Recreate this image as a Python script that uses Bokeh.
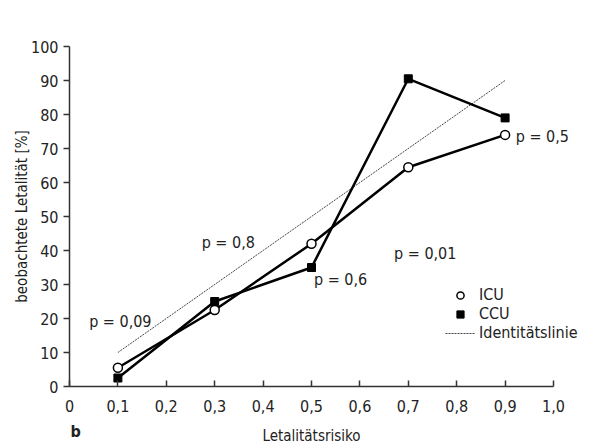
from bokeh.plotting import figure
from bokeh.models import Legend, LegendItem, FixedTicker
from bokeh.core.properties import value
from bokeh.embed import file_html
from bokeh.resources import INLINE

# data
risk = [0.1, 0.3, 0.5, 0.7, 0.9]
icu = [5.5, 22.5, 42, 64.5, 74]
ccu = [2.5, 25, 35, 90.5, 79]
ident_x = [0.1, 0.9]
ident_y = [10, 90]
p_labels = ["p = 0,09", "p = 0,8", "p = 0,6", "p = 0,01", "p = 0,5"]
p_x = [0.105, 0.328, 0.56, 0.735, 0.977]
p_y = [19, 42.5, 31.5, 39, 73.5]
x_ticks = [0, 0.1, 0.2, 0.3, 0.4, 0.5, 0.6, 0.7, 0.8, 0.9, 1.0]
x_tick_labels = ["0", "0,1", "0,2", "0,3", "0,4", "0,5", "0,6", "0,7", "0,8", "0,9", "1,0"]
y_ticks = [0, 10, 20, 30, 40, 50, 60, 70, 80, 90, 100]
panel_label = ["b"]

FONT = "DejaVu Sans Condensed, Roboto, sans-serif"

# the frame covers the whole canvas (484 px per x unit, 3.4 px per y unit);
# both axes are drawn at fixed locations so every text lies inside the frame
p = figure(width=594, height=448, x_range=(-69 / 484, 525 / 484),
           y_range=(-62 / 3.4, 100 + 46 / 3.4),
           output_backend="svg", toolbar_location=None,
           min_border_left=0, min_border_right=0, min_border_top=0, min_border_bottom=0)
p.xgrid.visible = False
p.ygrid.visible = False
p.outline_line_color = None
p.background_fill_color = "white"

for ax in (p.xaxis[0], p.yaxis[0]):
    ax.axis_line_color = "#333333"
    ax.axis_line_width = 1.5
    ax.major_tick_line_color = "#333333"
    ax.major_tick_line_width = 1.5
    ax.minor_tick_line_color = None
    ax.major_label_text_font = FONT
    ax.major_label_text_font_size = "16px"
    ax.major_label_text_color = "#222222"
    ax.axis_label_text_font = FONT
    ax.axis_label_text_font_size = "15px"
    ax.axis_label_text_font_style = "normal"
    ax.axis_label_text_color = "#222222"

p.xaxis.fixed_location = 0
p.xaxis.ticker = FixedTicker(ticks=x_ticks)
p.xaxis.bounds = (0, 1.0)
p.xaxis.major_label_overrides = {t: l for t, l in zip(x_ticks, x_tick_labels)}
p.xaxis.major_tick_in = 6
p.xaxis.major_tick_out = 0
p.xaxis.major_label_standoff = 13
p.xaxis.axis_label = "Letalitätsrisiko"
p.xaxis.axis_label_standoff = 12

p.yaxis.fixed_location = 0
p.yaxis.ticker = FixedTicker(ticks=y_ticks)
p.yaxis.bounds = (0, 100)
p.yaxis.major_tick_in = 0
p.yaxis.major_tick_out = 6
p.yaxis.axis_label = "beobachtete Letalität [%]"
p.yaxis.axis_label_standoff = -3

ident = p.line(ident_x, ident_y, line_color="#444444", line_width=1, line_dash="2 1")
p.line(risk, icu, line_color="black", line_width=2.5)
p.line(risk, ccu, line_color="black", line_width=2.5)
sq = p.scatter(risk, ccu, marker="square", size=8, fill_color="black", line_color="black")
ci = p.scatter(risk, icu, marker="circle", size=9, fill_color="white", line_color="black", line_width=1.5)

p.text(x=p_x, y=p_y, text=p_labels, text_font=value(FONT), text_font_size="16px",
       text_align="center", text_baseline="middle", text_color="#222222")

p.text(x=[0.002], y=[-13.2], text=panel_label, text_font=value(FONT), text_font_size="16px",
       text_font_style="bold", text_align="left", text_baseline="middle", text_color="#222222")

legend = Legend(items=[LegendItem(label="ICU", renderers=[ci]),
                       LegendItem(label="CCU", renderers=[sq]),
                       LegendItem(label="Identitätslinie", renderers=[ident])],
                location=(445, 106), padding=0, margin=0, spacing=0,
                label_height=18, glyph_height=18, glyph_width=30, label_standoff=4,
                label_text_font=FONT, label_text_font_size="16px", label_text_color="#222222",
                border_line_color=None, background_fill_alpha=0)
p.add_layout(legend)

open("out.html", "w").write(file_html(p, INLINE))
